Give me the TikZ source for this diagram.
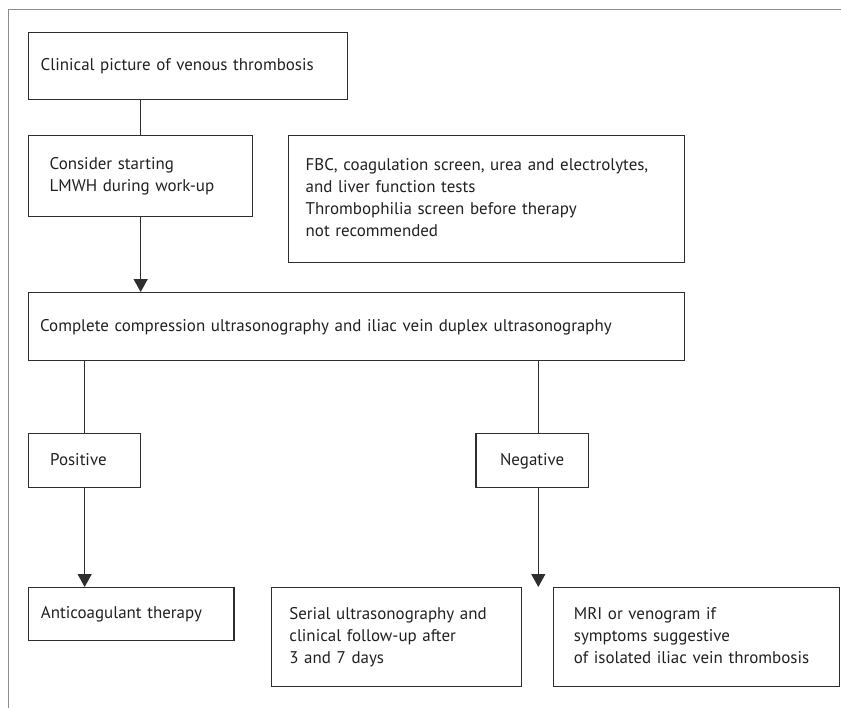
\documentclass[tikz,border=0pt]{standalone}
\usepackage{fontspec}
\setmainfont{PT Sans}
\usetikzlibrary{arrows.meta}
\definecolor{ink}{HTML}{231F20}
\definecolor{edge}{HTML}{2E2E2E}
\definecolor{framec}{HTML}{8C8C8C}
\newcommand\rows[1]{\begin{tabular}{@{}l@{}}#1\end{tabular}}
\begin{document}
\begin{tikzpicture}[x=0.75pt,y=-0.75pt,
  every node/.style={font=\fontsize{12.7}{16.5}\selectfont, text=ink},
  box/.style={draw=edge, line width=1pt, anchor=north west, align=left, inner ysep=0pt},
  sz/.style n args={3}{text width=#1, inner xsep=#2, minimum height=#3},
  link/.style={draw=edge, line width=1pt},
  arrowlink/.style={link, -{Triangle[width=10.5pt,length=9.75pt]}},
]
\useasboundingbox (0,0) rectangle (841,708);

% outer frame (top and left edges only)
\draw[framec, line width=1.1pt] (8.3,708) -- (8.3,9.5) -- (841,9.5);

% boxes
\node[box, sz={221.25pt}{9pt}{50.25pt}] (clin) at (28,32)
  {\rows{Clinical picture of venous thrombosis}};
\node[box, sz={136.5pt}{15.75pt}{60.75pt}] (lmwh) at (28,135)
  {\rows{Consider starting\\LMWH during work-up}};
\node[box, sz={271.5pt}{12.75pt}{95.25pt}] (labs) at (288,135)
  {\rows{FBC, coagulation screen, urea and electrolytes,\\and liver function tests\\Thrombophilia screen before therapy\\not recommended}};
\node[box, sz={474.8pt}{8.6pt}{51pt}] (cus) at (28,292)
  {\rows{Complete compression ultrasonography and iliac vein duplex ultrasonography}};
\node[box, sz={51.8pt}{16.1pt}{40.5pt}] (pos) at (28,433)
  {\rows{Positive}};
\node[box, align=center, sz={52.3pt}{16pt}{40.5pt}] (neg) at (475.3,433)
  {\rows{Negative}};
\node[box, sz={135.6pt}{9.2pt}{39.75pt}] (anti) at (28,587)
  {\rows{Anticoagulant therapy}};
\node[box, sz={160.5pt}{13.5pt}{74.25pt}] (serial) at (270.7,587)
  {\rows{Serial ultrasonography and\\clinical follow-up after\\3 and 7 days}};
\node[box, sz={184.1pt}{15.2pt}{74.25pt}] (mri) at (553,587)
  {\rows{MRI or venogram if\\symptoms suggestive\\of isolated iliac vein thrombosis}};

% connectors
\coordinate (negx) at (538.3,0);
\coordinate (negend) at (538.3,587);
\draw[link] (clin.south -| lmwh.north) -- (lmwh.north);
\draw[arrowlink] (lmwh.south) -- (cus.north -| lmwh.south);
\draw[link] (cus.south -| pos.north) -- (pos.north);
\draw[link] (cus.south -| negx) -- (neg.north -| negx);
\draw[arrowlink] (pos.south) -- (anti.north -| pos.south);
\draw[arrowlink] (neg.south -| negx) -- (negend);
\end{tikzpicture}
\end{document}
